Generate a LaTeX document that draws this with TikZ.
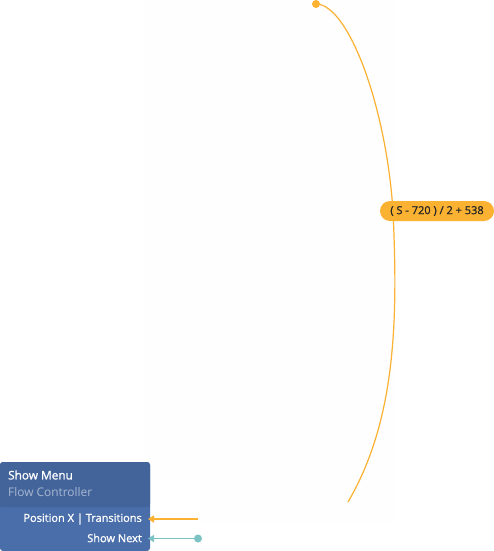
\documentclass[tikz,border=0pt]{standalone}
\usepackage{fontspec}
\setmainfont{Open Sans}
\newfontfamily\semib[FakeBold=1.2]{Open Sans}
\usetikzlibrary{arrows.meta}
\definecolor{orng}{HTML}{FBB131}
\definecolor{teal2}{HTML}{7CC3C3}
\definecolor{hdr}{HTML}{42649B}
\definecolor{body}{HTML}{4A6EAA}
\definecolor{sub}{HTML}{A8B7D1}
\definecolor{faint}{HTML}{FEFEFE}
\tikzset{
  porttext/.style={anchor=east,text=white,font=\semib\fontsize{11}{12}\selectfont,inner sep=0pt},
  wire/.style={line width=1.3pt},
  pill/.style={fill=orng,rounded corners=10pt,minimum height=20pt,minimum width=114pt,inner sep=0pt,font=\semib\fontsize{11}{12}\selectfont,text=black!85}
}
\begin{document}
\begin{tikzpicture}[x=1pt,y=-1pt]
\useasboundingbox (0,0) rectangle (494,551);
\fill[white] (0,0) rectangle (494,551);
% faint background panels
\fill[faint] (145,0) rectangle (395,480);
\fill[faint] (200,480) rectangle (395,522);
% node box
\fill[body,rounded corners=3pt] (0,462) rectangle (150,551);
\fill[hdr,rounded corners=3pt] (0,462) rectangle (150,507);
\fill[hdr] (0,495) rectangle (150,507);
\node[anchor=west,text=white,font=\semib\fontsize{11.8}{13}\selectfont,inner sep=0pt] (title) at (8,475) {Show Menu};
\node[anchor=west,text=sub,font=\fontsize{11.9}{13}\selectfont,inner sep=0pt] (subt) at (8,492.5) {Flow Controller};
\node[porttext] (p1) at (142,519) {Position X | Transitions};
\node[porttext] (p2) at (142,538) {Show Next};
\coordinate (in1) at (148,519);
\coordinate (in2) at (148,538.5);
\coordinate (o1) at (198,519);
\node[circle,fill=teal2,minimum size=8pt,inner sep=0pt] (d2) at (198,538.5) {};
% connectors
\draw[wire,orng,-{Triangle[length=6pt,width=7pt]}] (o1) -- (in1);
\draw[wire,teal2,-{Triangle[length=6pt,width=7pt]}] (d2.center) -- (in2);
% curve
\node[circle,fill=orng,minimum size=8pt,inner sep=0pt] (src) at (316,4) {};
\coordinate (end) at (348,502);
\coordinate (mid) at (393,211);
\draw[orng,line width=1.2pt] (src.center) .. controls (348,4) and (386,105) .. (mid)
   .. controls (398,320) and (396,420) .. (end);
\node[pill] (lbl) at (437,211) {( S - 720 ) / 2 + 538};
\end{tikzpicture}
\end{document}
